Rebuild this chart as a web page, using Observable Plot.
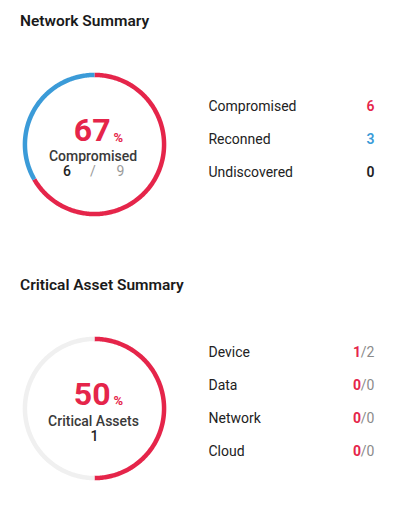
<!DOCTYPE html>
<html>
<head>
<meta charset="utf-8">
<script src="https://cdn.jsdelivr.net/npm/d3@7"></script>
<script src="https://cdn.jsdelivr.net/npm/@observablehq/plot@0.6"></script>
<style>
  html, body { margin: 0; padding: 0; background: #fff; }
  #page { position: relative; width: 393px; height: 512px; overflow: hidden; font-family: Roboto, sans-serif; }
  .title { position: absolute; left: 20px; font-weight: 600; color: #1a1a1a; white-space: nowrap; }
  .abs { position: absolute; }
  svg { overflow: visible; }
</style>
</head>
<body>
<div id="page">
  <div class="title" id="t1" style="top:13px;font-size:15.5px;line-height:16px;">Network Summary</div>
  <div class="abs" id="ring1" style="left:14px;top:63.5px;"></div>
  <div class="abs" id="list1" style="left:208px;top:92.5px;"></div>
  <div class="title" id="t2" style="top:278px;font-size:15.5px;line-height:15px;">Critical Asset Summary</div>
  <div class="abs" id="ring2" style="left:14px;top:327.5px;"></div>
  <div class="abs" id="list2" style="left:208px;top:340px;"></div>
</div>
<script>
// ---- data ----
const networkLabels = ["Compromised", "Reconned", "Undiscovered"];
const networkValues = [6, 3, 0];
const networkRingCaption = "Compromised";

const assetLabels = ["Device", "Data", "Network", "Cloud"];
const assetCompromised = [1, 0, 0, 0];
const assetTotals = [2, 0, 0, 0];
const assetRingCaption = "Critical Assets";

// ---- styles ----
const RED = "#e5254a";
const BLUE = "#3b9bd8";
const TRACK = "#f0f0f0";
const FONT = "Roboto, sans-serif";

function arcPoints(segments) {
  const total = d3.sum(segments, d => d.value);
  const pts = [];
  let start = 0;
  for (const s of segments) {
    const end = start + (total ? s.value / total : 0) * 2 * Math.PI;
    if (end > start) {
      const n = Math.max(2, Math.ceil((end - start) / (Math.PI / 180)));
      for (let i = 0; i <= n; i++) {
        const a = start + (end - start) * i / n;
        pts.push({key: s.key, x: Math.sin(a), y: Math.cos(a)});
      }
    }
    start = end;
  }
  return pts;
}

function ring(segments, colorDomain, colorRange, texts) {
  const pts = arcPoints(segments);
  return Plot.plot({
    width: 160, height: 160, margin: 0,
    style: {fontFamily: FONT, background: "transparent", overflow: "visible"},
    x: {domain: [-1.15, 1.15], axis: null},
    y: {domain: [-1.15, 1.15], axis: null},
    color: {domain: colorDomain, range: colorRange},
    marks: [
      Plot.line(pts, {x: "x", y: "y", z: "key", stroke: "key", strokeWidth: 4.5, strokeLinecap: "butt", curve: "linear"}),
      ...texts.map(t => Plot.text([t.text], {
        frameAnchor: "middle", text: d => d, lineAnchor: "bottom",
        textAnchor: t.anchor || "middle", dx: t.dx || 0, dy: t.dy || 0,
        fontSize: t.size, fontWeight: t.weight || 400, fill: t.fill, fontFamily: FONT
      }))
    ]
  });
}

function list(labels, step, valueMarks) {
  const h = step * labels.length;
  return Plot.plot({
    width: 166, height: h, margin: 0,
    style: {fontFamily: FONT, background: "transparent", overflow: "visible"},
    x: {domain: [0, 1], axis: null},
    y: {type: "point", domain: labels, padding: 0.5, axis: null},
    marks: [
      Plot.text(labels, {x: () => 0, y: d => d, text: d => d, textAnchor: "start", lineAnchor: "bottom", fontSize: 14, fill: "#222", fontFamily: FONT}),
      ...valueMarks
    ]
  });
}

// ---- Network summary ----
const netTotal = d3.sum(networkValues);
const netPct = Math.round(networkValues[0] / netTotal * 100);
document.getElementById("ring1").append(ring(
  networkLabels.map((k, i) => ({key: k, value: networkValues[i]})),
  networkLabels, [RED, BLUE, TRACK],
  [
    {text: String(netPct), anchor: "end", dx: 16, dy: -3.5, size: 32, weight: 700, fill: RED},
    {text: "%", anchor: "start", dx: 19, dy: -3, size: 13, weight: 700, fill: RED},
    {text: networkRingCaption, dx: -1.5, dy: 16.5, size: 14, weight: 500, fill: "#3a3a3a"},
    {text: String(networkValues[0]), dx: -27.5, dy: 31.5, size: 14, weight: 500, fill: "#222"},
    {text: "/", dx: -1.5, dy: 31.5, size: 14, weight: 400, fill: "#9a9a9a"},
    {text: String(netTotal), dx: 26, dy: 31.5, size: 14, weight: 400, fill: "#9a9a9a"}
  ]
));
const netColors = [RED, BLUE, "#222"];
document.getElementById("list1").append(list(networkLabels, 33.7, [
  Plot.text(networkLabels, {x: () => 1, y: d => d, text: (d, i) => String(networkValues[i]), textAnchor: "end", lineAnchor: "bottom", fontSize: 14, fontWeight: 600, fill: (d, i) => netColors[i], fontFamily: FONT})
]));

// ---- Critical asset summary ----
const critComp = d3.sum(assetCompromised);
const critTotal = d3.sum(assetTotals);
const critPct = Math.round(critComp / critTotal * 100);
document.getElementById("ring2").append(ring(
  [{key: "Compromised", value: critComp}, {key: "Remaining", value: critTotal - critComp}],
  ["Compromised", "Remaining"], [RED, TRACK],
  [
    {text: String(critPct), anchor: "end", dx: 16, dy: -4, size: 32, weight: 700, fill: RED},
    {text: "%", anchor: "start", dx: 19, dy: -3.5, size: 13, weight: 700, fill: RED},
    {text: assetRingCaption, dx: -1, dy: 17.5, size: 14, weight: 500, fill: "#3a3a3a"},
    {text: String(critComp), dx: 0, dy: 32.5, size: 14, weight: 500, fill: "#222"}
  ]
));
document.getElementById("list2").append(list(assetLabels, 33.1, [
  Plot.text(assetLabels, {x: () => 1, y: d => d, text: (d, i) => "/" + assetTotals[i], textAnchor: "end", lineAnchor: "bottom", fontSize: 14, fill: "#8a8a8a", fontFamily: FONT}),
  Plot.text(assetLabels, {x: () => 1, y: d => d, text: (d, i) => String(assetCompromised[i]), textAnchor: "end", dx: -13.5, lineAnchor: "bottom", fontSize: 14, fontWeight: 700, fill: RED, fontFamily: FONT})
]));
</script>
</body>
</html>
